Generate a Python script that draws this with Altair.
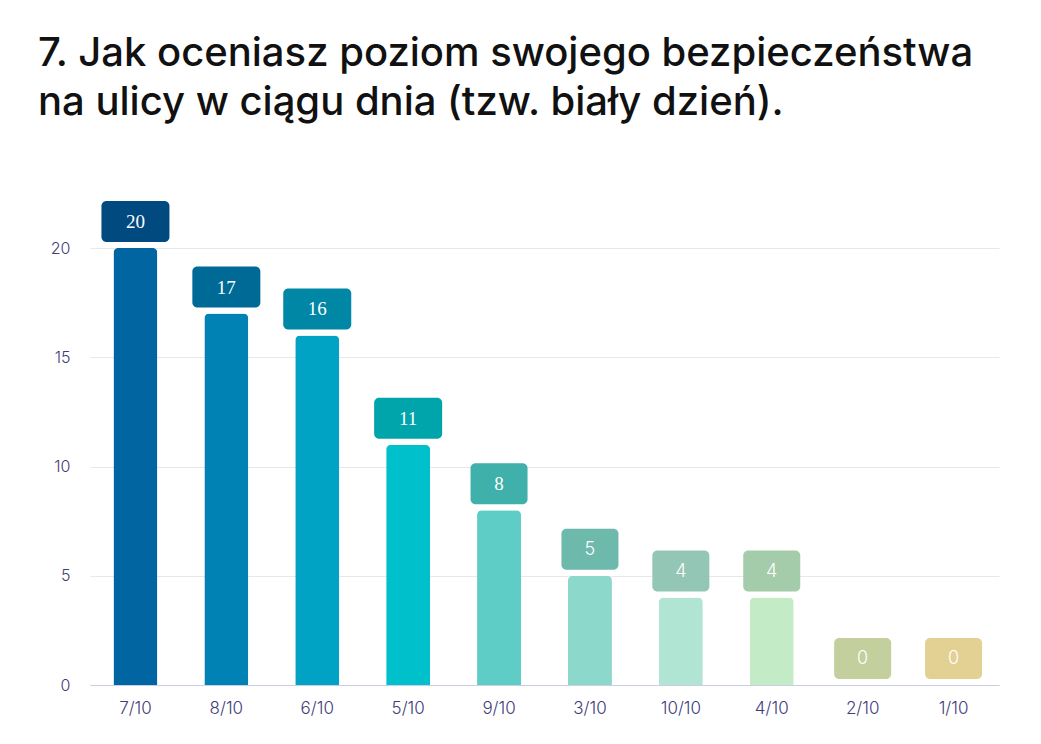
import altair as alt
import pandas as pd

categories = ["7/10", "8/10", "6/10", "5/10", "9/10", "3/10", "10/10", "4/10", "2/10", "1/10"]
values = [20, 17, 16, 11, 8, 5, 4, 4, 0, 0]
bar_colors = ["#0065a0", "#0083b4", "#00a3c4", "#00c1cb", "#5ecdc6",
              "#8cd8cb", "#b0e5d4", "#c3ebc6", "#c6d3a3", "#e6d79a"]
box_colors = ["#004a80", "#006a96", "#0087a6", "#00a4ab", "#40b0aa",
              "#6db9ac", "#93c6b4", "#a4cbaa", "#c3cf9d", "#e2d193"]
title_lines = ["7. Jak oceniasz poziom swojego bezpieczeństwa",
               "na ulicy w ciągu dnia (tzw. biały dzień)."]

df = pd.DataFrame({"cat": categories, "value": values})

AX = "#3f3d7a"

x = alt.X("cat:N", sort=categories, title=None,
          scale=alt.Scale(paddingInner=0.5, paddingOuter=0.25),
          axis=alt.Axis(labelAngle=0, ticks=False, domainColor="#c9cde6",
                        labelPadding=15, labelFontSize=17, labelColor=AX,
                        labelFont="Inter", labelFontWeight=300, grid=False))
y = alt.Y("value:Q", title=None,
          scale=alt.Scale(domain=[0, 20], nice=False),
          axis=alt.Axis(values=[0, 5, 10, 15, 20], ticks=False, domain=False,
                        gridColor="#e8e8ec", labelPadding=20, labelFontSize=16,
                        labelColor=AX, labelFont="Inter", labelFontWeight=300))

base = alt.Chart(df)
xc = alt.X("cat:N", sort=categories)

bars = base.mark_bar(width=44, cornerRadiusTopLeft=5, cornerRadiusTopRight=5).encode(
    x=x, y=y,
    color=alt.Color("cat:N", scale=alt.Scale(domain=categories, range=bar_colors), legend=None),
)

box_fill = alt.Fill("cat:N", scale=alt.Scale(domain=categories, range=box_colors), legend=None)

boxes_wide = base.transform_filter("datum.value >= 10").mark_bar(
    width=68, cornerRadius=5, yOffset=-6, y2Offset=-47
).encode(x=xc, y=alt.Y("value:Q"), y2=alt.Y2("value"), fill=box_fill)

boxes_narrow = base.transform_filter("datum.value < 10").mark_bar(
    width=57, cornerRadius=5, yOffset=-6, y2Offset=-47
).encode(x=xc, y=alt.Y("value:Q"), y2=alt.Y2("value"), fill=box_fill)

labels_serif = base.transform_filter("datum.value >= 8").mark_text(
    color="white", fontSize=19, font="Liberation Serif", baseline="middle", dy=-26
).encode(x=xc, y=alt.Y("value:Q"), text="value:Q")

labels_sans = base.transform_filter("datum.value < 8").mark_text(
    color="white", fontSize=18, font="Inter", fontWeight=300, baseline="middle", dy=-26
).encode(x=xc, y=alt.Y("value:Q"), text="value:Q")

chart = alt.layer(bars, boxes_wide, boxes_narrow, labels_serif, labels_sans).resolve_scale(
    color="independent"
).properties(
    width=909, height=437,
    autosize=alt.AutoSizeParams(type="none"),
    padding={"left": 82, "top": 240, "right": 20, "bottom": 40},
    title=alt.TitleParams(title_lines, anchor="start", frame="group", fontSize=40,
                          font="Inter", fontWeight=500, color="#111111",
                          lineHeight=49, dx=-52, offset=78),
).configure_view(stroke=None)

chart.save("out.html", embed_options={"renderer": "svg", "actions": False})
